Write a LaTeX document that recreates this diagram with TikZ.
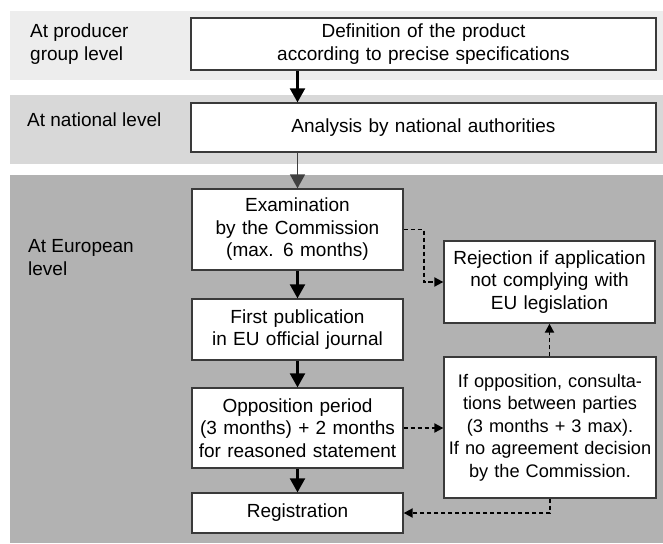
\documentclass[tikz,border=0pt]{standalone}
\usepackage{fontspec}
\setmainfont{Liberation Sans}
\usetikzlibrary{arrows.meta}
\definecolor{bandA}{HTML}{EDEDED}
\definecolor{bandB}{HTML}{D8D8D8}
\definecolor{bandC}{HTML}{B2B2B2}
\definecolor{edge}{HTML}{3A3A3A}
\definecolor{grayarrow}{HTML}{404040}
\tikzset{
  stepbox/.style={draw=edge, line width=1.3pt, fill=white, inner sep=0pt,
    align=center, font=\fontsize{19}{22.5}\selectfont},
  levellabel/.style={anchor=base west, inner sep=0pt, align=left,
    font=\fontsize{19}{23}\selectfont},
  solidarrow/.style={line width=2.2pt, -{Triangle[length=14pt,width=15pt]}},
  grayarr/.style={draw=grayarrow, line width=1.6pt, -{Triangle[length=14pt,width=15pt]}},
  dasharrow/.style={line width=1.9pt, dash pattern=on 4.5pt off 2.5pt,
    -{Triangle[length=9pt,width=9pt]}},
}
\begin{document}
\begin{tikzpicture}[x=1pt,y=-1pt]
\useasboundingbox (0,0) rectangle (663,543);
% bands
\fill[bandA] (10,11) rectangle (663,80);
\fill[bandB] (10,95) rectangle (663,164);
\fill[bandC] (10,175) rectangle (663,543);
% level labels (base anchor = baseline of last line)
\node[levellabel] (lp) at (30,60) {At producer\\group level};
\node[levellabel] (ln) at (27,126) {At national level};
\node[levellabel] (le) at (28,275) {At European\\level};
% boxes
\node[stepbox, minimum width=465pt, minimum height=52pt, text width=465pt] (def) at (423.5,44) {Definition of the product\\according to precise specifications};
\node[stepbox, minimum width=465pt, minimum height=49pt, text width=465pt] (ana) at (423.5,127.5) {Analysis by national authorities};
\node[stepbox, minimum width=211pt, minimum height=81pt, text width=211pt] (exam) at (297.5,229.5) {Examination\\by the Commission\\(max. 6 months)};
\node[stepbox, minimum width=211pt, minimum height=61pt, text width=211pt] (pub) at (297.5,329.5) {First publication\\in EU official journal};
\node[stepbox, minimum width=211pt, minimum height=80pt, text width=211pt] (opp) at (297.5,428) {Opposition period\\(3 months) + 2 months\\for reasoned statement};
\node[stepbox, minimum width=211pt, minimum height=40pt, text width=211pt] (reg) at (297.5,513) {Registration};
\node[stepbox, minimum width=211pt, minimum height=82pt, text width=211pt] (rej) at (549.5,282) {Rejection if application\\not complying with\\EU legislation};
\node[stepbox, minimum width=212pt, minimum height=141pt, text width=212pt,
  font=\fontsize{18.2}{22.5}\selectfont] (cons) at (550,427.5) {If opposition, consulta-\\tions between parties\\(3 months + 3 max).\\If no agreement decision\\by the Commission.};
% arrows
\draw[solidarrow] (def.south -| exam.north) -- (ana.north -| exam.north);
\draw[grayarr] (ana.south -| exam.north) -- (exam.north);
\draw[solidarrow] (exam.south) -- (pub.north);
\draw[solidarrow] (pub.south) -- (opp.north);
\draw[solidarrow] (opp.south) -- (reg.north);
\draw[dasharrow] (exam.east) -- ++(20,0) |- (rej.west);
\draw[dasharrow] (opp.east) -- (cons.west |- opp.east);
\draw[dasharrow] (rej.south |- cons.north) -- (rej.south);
\draw[dasharrow] (cons.south) |- (reg.east);
\end{tikzpicture}
\end{document}
